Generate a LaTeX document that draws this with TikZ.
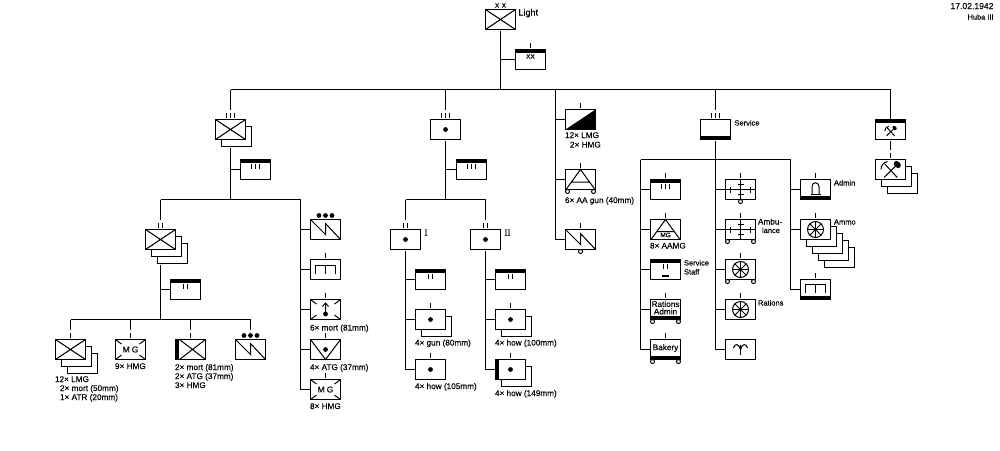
\documentclass[tikz,border=0pt]{standalone}
\usepackage{fontspec}
\setmainfont[FakeBold=0.15]{Liberation Sans}
\newfontfamily\romanlabel[FakeBold=0.15]{Liberation Serif}
\usetikzlibrary{calc}

\tikzset{
  every path/.style={line width=1pt},
  ubox/.style={rectangle,draw=black,fill=white,minimum width=30pt,minimum height=20pt,inner sep=0pt,outer sep=0pt,line width=1pt},
  lbl/.style={anchor=base west,inner sep=0pt,outer sep=0pt},
  ctr/.style={anchor=center,inner sep=0pt,outer sep=0pt},
  blackdot/.style={fill=black,draw=none},
  wheel/.style={draw=black,fill=white,line width=1pt}
}

% A unit box with an optional number of stacked copies behind it
\newcommand{\unitbox}[4][0]{%
  \ifnum#1>0
    \foreach \s in {#1,...,1}{\node[ubox] (#2-s\s) at ({#3+6*\s},{#4+7*\s}) {};}
  \fi
  \node[ubox] (#2) at (#3,#4) {};}
% Text labels: name, x, centre y, text; baseline sits 3 units under the centre
\newcommand{\lab}[5][8.2]{\node[lbl,font=\fontsize{#1}{#1}\selectfont] (#2) at (#3,{#4+3}) {#5};}
\newcommand{\inlab}[5][8.2]{\node[ctr,font=\fontsize{#1}{#1}\selectfont] (#2) at (#3,#4) {#5};}
% Connector helpers
\newcommand{\stub}[2]{\draw (#1 |- #2.west) -- (#2.west);}
\newcommand{\dropto}[2]{\draw (#2.north |- #1) -- ([yshift=10pt]#2.north);}
% Rows of echelon ticks, relative to an anchor
\newcommand{\tickrow}[4]{\begin{scope}[shift={(#1)}]
  \ifcase#2\or
    \draw (0,#3) -- (0,#4);\or
    \draw (-2,#3) -- (-2,#4) (2,#3) -- (2,#4);\or
    \draw (-4,#3) -- (-4,#4) (0,#3) -- (0,#4) (4,#3) -- (4,#4);\fi
  \end{scope}}
\newcommand{\echabove}[2]{\tickrow{#1.north}{#2}{-6.5}{-1.5}}
\newcommand{\echinside}[2]{\tickrow{#1.center}{#2}{-5.5}{-0.5}}
\newcommand{\threedots}[1]{\begin{scope}[shift={(#1.north)}]
  \fill[blackdot] (-6.5,-4) circle (2.4) (0,-4) circle (2.4) (6.5,-4) circle (2.4);\end{scope}}
% Fittings of a unit box
\newcommand{\bandtop}[1]{\fill[black] (#1.north west) rectangle ([yshift=-3.5pt]#1.north east);}
\newcommand{\bandbot}[1]{\fill[black] (#1.south west) rectangle ([yshift=3.5pt]#1.south east);}
\newcommand{\barleft}[1]{\fill[black] (#1.north west) rectangle ([xshift=3.5pt]#1.south west);}
\newcommand{\wheels}[1]{\begin{scope}[shift={(#1.south)}]
  \draw[wheel] (-13,2) circle (2) (13,2) circle (2);\end{scope}}
\newcommand{\onewheel}[1]{\draw[wheel] ([yshift=-2pt]#1.south) circle (2);}
% Arm-of-service signs
\newcommand{\symcross}[1]{\draw (#1.north west) -- (#1.south east) (#1.north east) -- (#1.south west);}
\newcommand{\symcrossbar}[1]{\draw ([xshift=4pt]#1.north west) -- (#1.south east) (#1.north east) -- ([xshift=4pt]#1.south west);}
\newcommand{\symdot}[1]{\fill[blackdot] (#1.center) circle (2.4);}
\newcommand{\symcorners}[1]{\begin{scope}[shift={(#1.center)}]
  \draw (-15,-10) -- (-9,-5.5) (15,-10) -- (9,-5.5) (-15,10) -- (-9,5.5) (15,10) -- (9,5.5);\end{scope}}
\newcommand{\symzig}[1]{\begin{scope}[shift={(#1.center)}]
  \draw (-15,-10) -- (0,5) -- (0,-6) -- (15,10);\end{scope}}
\newcommand{\symgun}[1]{\begin{scope}[shift={(#1.center)}]
  \draw (-15,-10) -- (0,10) -- (15,-10);\fill[blackdot] (0,0) circle (2.4);\end{scope}}
\newcommand{\symmortar}[1]{\begin{scope}[shift={(#1.center)}]
  \draw (0,4.5) -- (0,-6.5) (-3,-3) -- (0,-6.5) -- (3,-3);\fill[blackdot] (0,4.5) circle (2.4);\end{scope}}
\newcommand{\symbridge}[2]{\begin{scope}[shift={(#1.center)}]
  \draw (-10,#2+8) -- (-10,#2) -- (10,#2) -- (10,#2+8) (0,#2) -- (0,#2+8);\end{scope}}
\newcommand{\symtri}[2]{\begin{scope}[shift={(#1.center)}]
  \draw (-14.5,10) -- (0,-10) -- (14.5,10) (-9,#2) -- (9,#2);\end{scope}}
\newcommand{\symmedic}[1]{\begin{scope}[shift={(#1.center)}]
  \draw (-15,0) -- (15,0) (0,-10) -- (0,10) (-10,-3) -- (-10,3) (10,-3) -- (10,3) (-3,-5) -- (3,-5) (-3,5) -- (3,5);\end{scope}}
\newcommand{\symwheel}[1]{\begin{scope}[shift={(#1.center)}]
  \draw (0,0) circle (8);
  \foreach \a in {0,45,...,315}{\draw (0,0) -- (\a:8);}
  \fill[blackdot] (0,0) circle (1.6);\end{scope}}
\newcommand{\symfork}[1]{\begin{scope}[shift={(#1.center)}]
  \draw (0,-4.5) -- (0,5);
  \draw (-7,-1.5) .. controls (-6,-6.5) and (-1.5,-6) .. (0,0) .. controls (1.5,-6) and (6,-6.5) .. (7,-1.5);\end{scope}}
\newcommand{\symbell}[1]{\begin{scope}[shift={(#1.center)}]
  \draw (-5,4.5) -- (5,4.5);
  \draw (-3.5,4.5) -- (-3.5,-3) .. controls (-3.5,-8) and (3.5,-8) .. (3.5,-3) -- (3.5,4.5);\end{scope}}
\newcommand{\symtools}[3]{\begin{scope}[shift={($(#1.center)+(0,#3)$)},scale=#2]
  \draw (-6.5,8) -- (6,-4.3) (6.8,8) -- (-5.5,-5.3);
  \draw (-9.5,0) .. controls (-9.5,-4) and (-7,-7) .. (-3,-8);
  \fill[black,rotate around={-45:(6.8,-5)}] (6.8,-5) ellipse (4 and 3);\end{scope}}

\begin{document}
\begin{tikzpicture}[x=1pt,y=-1pt]
\useasboundingbox (0,0) rectangle (1000,450);
\fill[white] (0,0) rectangle (1000,450);

% Division headquarters and the main bus
\unitbox{div}{500.5}{19.5}
\symcross{div}
\node[ctr,font=\fontsize{6.5}{6.5}\selectfont] (divmark) at (500.5,5.5) {X\hspace{2.5pt}X};
\lab[9]{divname}{518.5}{12.5}{Light}
\unitbox{divhq}{530.5}{59.5}
\bandtop{divhq}\echabove{divhq}{1}
\inlab[6.5]{divhqmark}{530.5}{56.5}{XX}
\coordinate (busL) at (230.5,89.5);
\coordinate (busR) at (890.5,89.5);
\coordinate (busM) at (500.5,89.5);
\draw ([yshift=-1.5pt]div.south) -- (busM);
\stub{busM}{divhq}
\draw (busL) -- (busR);

% Infantry regiment
\unitbox[1]{reg}{230.5}{129.5}
\symcross{reg}\echabove{reg}{3}
\dropto{busL}{reg}
\unitbox{reghq}{255.5}{169.5}
\bandtop{reghq}\echinside{reghq}{3}
\coordinate (regL) at (160.5,199.5);
\coordinate (regR) at (300.5,199.5);
\draw ($(reg.south |- reg-s1.south)+(0,1.5)$) -- (reg.south |- regL);
\stub{reg.south}{reghq}

% Infantry battalion
\unitbox[2]{bat}{160.5}{239.5}
\symcross{bat}\echabove{bat}{2}
\dropto{regL}{bat}
\unitbox{bathq}{185.5}{289.5}
\bandtop{bathq}\echinside{bathq}{2}
\coordinate (batL) at (70.5,319.5);
\coordinate (batR) at (250.5,319.5);
\draw ($(bat.south |- bat-s2.south)+(0,1.5)$) -- (bat.south |- batL);
\stub{bat.south}{bathq}
\draw (batL) -- (batR);

\unitbox[2]{coy}{70.5}{349.5}
\symcross{coy}\echabove{coy}{1}\dropto{batL}{coy}
\lab{coya}{55}{379}{12× LMG}
\lab{coyb}{60}{388}{2× mort (50mm)}
\lab{coyc}{60}{397}{1× ATR (20mm)}

\unitbox{mgcoy}{130.5}{349.5}
\symcorners{mgcoy}\echabove{mgcoy}{1}\dropto{batL}{mgcoy}
\inlab[8.5]{mgcoyt}{130.5}{349.5}{M\hspace{2pt}G}
\lab{mgcoyl}{115}{366}{9× HMG}

\unitbox{hvcoy}{190.5}{349.5}
\barleft{hvcoy}\symcrossbar{hvcoy}\echabove{hvcoy}{1}\dropto{batL}{hvcoy}
\lab{hvcoya}{175}{367}{2× mort (81mm)}
\lab{hvcoyb}{175}{376}{2× ATG (37mm)}
\lab{hvcoyc}{175}{385}{3× HMG}

\unitbox{batsig}{250.5}{349.5}
\symzig{batsig}\threedots{batsig}\dropto{batL}{batsig}

% Regimental companies
\draw (regL) -- (regR);
\unitbox{regsig}{325.5}{229.5}
\symzig{regsig}\threedots{regsig}
\unitbox{regeng}{325.5}{269.5}
\symbridge{regeng}{-4}\echabove{regeng}{1}
\unitbox{regmor}{325.5}{309.5}
\symcorners{regmor}\symmortar{regmor}\echabove{regmor}{1}
\lab{regmorl}{310}{327.5}{6× mort (81mm)}
\unitbox{regatg}{325.5}{349.5}
\symgun{regatg}\echabove{regatg}{1}
\lab{regatgl}{310}{367}{4× ATG (37mm)}
\unitbox{regmg}{325.5}{389.5}
\symcorners{regmg}\echabove{regmg}{1}
\inlab[8.5]{regmgt}{325.5}{389.5}{M\hspace{2pt}G}
\lab{regmgl}{310}{406}{8× HMG}
\draw (regR) -- (regR |- regmg.west) -- (regmg.west);
\stub{regR}{regsig}\stub{regR}{regeng}\stub{regR}{regmor}\stub{regR}{regatg}

% Artillery regiment
\unitbox{art}{445.5}{129.5}
\symdot{art}\echabove{art}{3}\dropto{busL}{art}
\unitbox{arthq}{471.5}{169.5}
\bandtop{arthq}\echinside{arthq}{3}
\coordinate (artL) at (405.5,199.5);
\coordinate (artR) at (485.5,199.5);
\draw ([yshift=-1.5pt]art.south) -- (art.south |- artL);
\stub{art.south}{arthq}
\draw (artL) -- (artR);

\unitbox{aba}{405.5}{239.5}
\symdot{aba}\echabove{aba}{2}\dropto{artL}{aba}
\node[lbl,font=\romanlabel\fontsize{9}{9}\selectfont] (abal) at (424.5,235.5) {I};
\unitbox{abahq}{430.5}{279.5}
\bandtop{abahq}\echinside{abahq}{2}
\unitbox[1]{abaa}{430.5}{319.5}
\symdot{abaa}\echabove{abaa}{1}
\lab{abaal}{415}{342.5}{4× gun (80mm)}
\unitbox{abab}{430.5}{369.5}
\symdot{abab}\echabove{abab}{1}
\lab{ababl}{415}{386}{4× how (105mm)}
\draw ([yshift=-1.5pt]aba.south) -- (aba.south |- abab.west) -- (abab.west);
\stub{aba.south}{abahq}\stub{aba.south}{abaa}

\unitbox{abb}{485.5}{239.5}
\symdot{abb}\echabove{abb}{2}\dropto{artL}{abb}
\node[lbl,font=\romanlabel\fontsize{9}{9}\selectfont] (abbl) at (504.5,235.5) {II};
\unitbox{abbhq}{510.5}{279.5}
\bandtop{abbhq}\echinside{abbhq}{2}
\unitbox[1]{abba}{510.5}{319.5}
\symdot{abba}\echabove{abba}{1}
\lab{abbal}{495}{342.5}{4× how (100mm)}
\unitbox[1]{abbb}{510.5}{369.5}
\barleft{abbb}\symdot{abbb}\echabove{abbb}{1}
\lab{abbbl}{495}{393}{4× how (149mm)}
\draw ([yshift=-1.5pt]abb.south) -- (abb.south |- abbb.west) -- (abbb.west);
\stub{abb.south}{abbhq}\stub{abb.south}{abba}

% Independent companies
\coordinate (indT) at (555.5,89.5);
\unitbox{mot}{580.5}{119.5}
\fill[black] (mot.south west) -- (mot.north east) -- (mot.south east) -- cycle;
\echabove{mot}{1}
\lab{mota}{565}{135}{12× LMG}
\lab{motb}{570}{144.5}{2× HMG}
\unitbox{aa}{580.5}{179.5}
\symtri{aa}{2.5}\echabove{aa}{1}\wheels{aa}
\lab{aal}{565}{200}{6× AA gun (40mm)}
\unitbox{zig}{580.5}{239.5}
\symzig{zig}\echabove{zig}{1}\onewheel{zig}
\draw (indT) -- (indT |- zig.west) -- (zig.west);
\stub{indT}{mot}\stub{indT}{aa}

% Service group
\unitbox{srv}{715.5}{129.5}
\bandbot{srv}\echabove{srv}{3}\dropto{busL}{srv}
\lab[7.5]{srvl}{734.5}{122.5}{Service}
\coordinate (srvL) at (640.5,159.5);
\coordinate (srvM) at (715.5,159.5);
\coordinate (srvR) at (790.5,159.5);
\draw (srvL) -- (srvR);

\unitbox{sa}{665.5}{189.5}
\bandtop{sa}\echabove{sa}{1}\echinside{sa}{3}
\unitbox{sb}{665.5}{229.5}
\symtri{sb}{2}\echabove{sb}{1}
\inlab[6.5]{sbt}{665.5}{235}{MG}
\lab{sbl}{650}{245.5}{8× AAMG}
\unitbox{sc}{665.5}{269.5}
\bandtop{sc}\echinside{sc}{2}
\fill[black] (662,275) rectangle (669,277);
\lab[7.5]{scla}{684}{262.5}{Service}
\lab[7.5]{sclb}{684}{271.5}{Staff}
\unitbox{sd}{665.5}{309.5}
\bandbot{sd}\echabove{sd}{1}\wheels{sd}
\inlab{sdta}{665.5}{304}{Rations}
\inlab{sdtb}{665.5}{311.5}{Admin}
\unitbox{se}{665.5}{349.5}
\bandbot{se}\echabove{se}{1}\wheels{se}
\inlab{set}{665.5}{348}{Bakery}
\draw (srvL) -- (srvL |- se.west) -- (se.west);
\stub{srvL}{sa}\stub{srvL}{sb}\stub{srvL}{sc}\stub{srvL}{sd}

\unitbox{ma}{740.5}{189.5}
\symmedic{ma}\echabove{ma}{1}\onewheel{ma}
\unitbox{mb}{740.5}{229.5}
\symmedic{mb}\echabove{mb}{1}\wheels{mb}
\lab{mbla}{758}{221.5}{Ambu-}
\lab[7.5]{mblb}{762}{230}{lance}
\unitbox{mc}{740.5}{269.5}
\symwheel{mc}\echabove{mc}{1}\wheels{mc}
\unitbox{md}{740.5}{309.5}
\symwheel{md}\echabove{md}{1}
\lab[7.5]{mdl}{758}{302.5}{Rations}
\unitbox{me}{740.5}{349.5}
\symfork{me}
\draw ([yshift=-1.5pt]srv.south) -- (srv.south |- me.west) -- (me.west);
\stub{srvM}{ma}\stub{srvM}{mb}\stub{srvM}{mc}\stub{srvM}{md}

\unitbox{ra}{815.5}{189.5}
\bandbot{ra}\symbell{ra}\echabove{ra}{1}
\lab[7.5]{ral}{834}{182.5}{Admin}
\unitbox[4]{rb}{815.5}{229.5}
\symwheel{rb}\echabove{rb}{1}
\lab[7.5]{rbl}{834}{221.5}{Ammo}
\unitbox{rc}{815.5}{289.5}
\bandbot{rc}\symbridge{rc}{-5}\echabove{rc}{1}
\draw (srvR) -- (srvR |- rc.west) -- (rc.west);
\stub{srvR}{ra}\stub{srvR}{rb}

% Pioneers
\unitbox{pio}{890.5}{129.5}
\bandtop{pio}\symtools{pio}{0.6}{1.5}
\draw (pio.north |- busR) -- (pio.north);
\unitbox[2]{piob}{890.5}{169.5}
\symtools{piob}{1}{0}\echabove{piob}{1}
\draw ([yshift=-1.5pt]pio.south) -- ([yshift=10pt]piob.north);

% Date and formation
\node[anchor=base east,inner sep=0pt,font=\fontsize{8.6}{8.6}\selectfont] (date) at (994,9) {17.02.1942};
\node[anchor=base east,inner sep=0pt,font=\fontsize{7.4}{7.4}\selectfont] (form) at (994,19.5) {Huba III};
\end{tikzpicture}
\end{document}
